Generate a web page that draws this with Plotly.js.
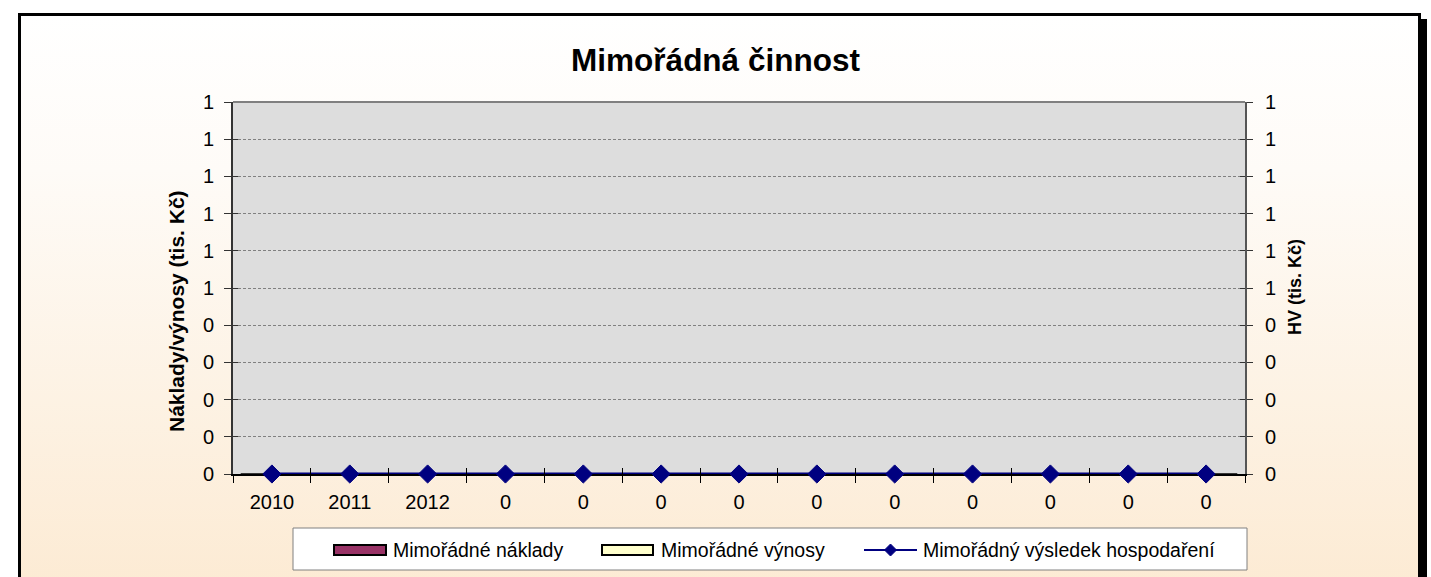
<!DOCTYPE html>
<html>
<head>
<meta charset="utf-8">
<script src="https://cdn.plot.ly/plotly-3.0.1.min.js"></script>
<style>
  html, body { margin: 0; padding: 0; background: #ffffff; }
  #wrap { position: relative; width: 1431px; height: 577px; overflow: hidden; background: #ffffff; }
  #frame {
    position: absolute; left: 18px; top: 13px; width: 1403px; height: 620px;
    box-sizing: border-box; border: 3px solid #000000;
    box-shadow: 6px 6px 0 #000000;
    background: linear-gradient(to bottom, #FFFFFF 0%, #FEFBF7 25%, #FCE9D0 100%);
  }
  #chart { position: absolute; left: 0; top: 0; width: 1431px; height: 577px; }
</style>
</head>
<body>
<div id="wrap">
  <div id="frame"></div>
  <div id="chart"></div>
</div>
<script>
// ---- data ----
const categories = ['2010', '2011', '2012', '0', '0', '0', '0', '0', '0', '0', '0', '0', '0'];
const mimoradneNaklady = [0, 0, 0, 0, 0, 0, 0, 0, 0, 0, 0, 0, 0];
const mimoradneVynosy  = [0, 0, 0, 0, 0, 0, 0, 0, 0, 0, 0, 0, 0];
const mimoradnyVysledek = [0, 0, 0, 0, 0, 0, 0, 0, 0, 0, 0, 0, 0];
const seriesNames = ['Mimořádné náklady', 'Mimořádné výnosy', 'Mimořádný výsledek hospodaření'];
const yTickVals = [0, 0.1, 0.2, 0.3, 0.4, 0.5, 0.6, 0.7, 0.8, 0.9, 1.0];
const yTickText = ['0', '0', '0', '0', '0', '1', '1', '1', '1', '1', '1'];
const chartTitle = 'Mimořádná činnost';
const yTitleLeft = 'Náklady/výnosy (tis. Kč)';
const yTitleRight = 'HV (tis. Kč)';

// ---- styles ----
const FONT = '"Liberation Sans", Arial, sans-serif';
const colNaklady = '#993366';
const colVynosy = '#FFFFCC';
const colVysledek = '#000080';

const W = 1431, H = 577;
const M = { l: 233, r: 186, t: 102, b: 103 };
const pw = W - M.l - M.r, ph = H - M.t - M.b;
const px = x => (x - M.l) / pw;
const py = y => (H - M.b - y) / ph;

const xIdx = categories.map((_, i) => i);
const xRange = [-0.5, categories.length - 0.5];

const traces = [
  { type: 'bar', name: seriesNames[0], x: xIdx, y: mimoradneNaklady, xaxis: 'x', yaxis: 'y',
    marker: { color: colNaklady, line: { color: '#000', width: 1 } }, showlegend: false },
  { type: 'bar', name: seriesNames[1], x: xIdx, y: mimoradneVynosy, xaxis: 'x', yaxis: 'y',
    marker: { color: colVynosy, line: { color: '#000', width: 1 } }, showlegend: false },
  { type: 'scatter', mode: 'lines+markers', name: seriesNames[2], x: xIdx, y: mimoradnyVysledek,
    xaxis: 'x', yaxis: 'y2', cliponaxis: false,
    line: { color: colVysledek, width: 3 },
    marker: { symbol: 'diamond', size: 14, color: colVysledek, line: { color: colVysledek, width: 1 } },
    showlegend: false }
];

// manual legend (Excel-style wide swatches)
const legY = 550;
const dmX = 890.5, dmR = 6;
const shapes = [
  { type: 'line', xref: 'paper', yref: 'paper', x0: 0, x1: 1, y0: 1, y1: 1,
    line: { color: '#808080', width: 2 } },
  { type: 'rect', xref: 'paper', yref: 'paper', x0: px(293), x1: px(1247), y0: py(570), y1: py(528),
    fillcolor: '#FFFFFF', line: { color: '#808080', width: 1 } },
  { type: 'rect', xref: 'paper', yref: 'paper', x0: px(334), x1: px(386), y0: py(555), y1: py(545),
    fillcolor: colNaklady, line: { color: '#000', width: 2 } },
  { type: 'rect', xref: 'paper', yref: 'paper', x0: px(602), x1: px(653), y0: py(555), y1: py(545),
    fillcolor: colVynosy, line: { color: '#000', width: 2 } },
  { type: 'line', xref: 'paper', yref: 'paper', x0: px(864), x1: px(917), y0: py(legY), y1: py(legY),
    line: { color: colVysledek, width: 2 } },
  { type: 'path', xref: 'paper', yref: 'paper',
    path: `M${px(dmX)},${py(legY - dmR)} L${px(dmX + dmR)},${py(legY)} L${px(dmX)},${py(legY + dmR)} L${px(dmX - dmR)},${py(legY)} Z`,
    fillcolor: colVysledek, line: { color: colVysledek, width: 1 } }
];

const legFont = { family: FONT, size: 19.5, color: '#000' };
const annotations = [
  { xref: 'paper', yref: 'paper', x: px(391), y: py(legY), xanchor: 'left', yanchor: 'middle',
    text: seriesNames[0], showarrow: false, font: legFont },
  { xref: 'paper', yref: 'paper', x: px(659), y: py(legY), xanchor: 'left', yanchor: 'middle',
    text: seriesNames[1], showarrow: false, font: legFont },
  { xref: 'paper', yref: 'paper', x: px(921), y: py(legY), xanchor: 'left', yanchor: 'middle',
    text: seriesNames[2], showarrow: false, font: legFont },
  { xref: 'paper', yref: 'paper', x: px(176), y: py(311), xanchor: 'center', yanchor: 'middle',
    text: yTitleLeft, textangle: -90, showarrow: false,
    font: { family: FONT, size: 21, color: '#000', weight: 700 } },
  { xref: 'paper', yref: 'paper', x: px(1295), y: py(287), xanchor: 'center', yanchor: 'middle',
    text: yTitleRight, textangle: -90, showarrow: false,
    font: { family: FONT, size: 18, color: '#000', weight: 700 } }
];

const tickFont = { family: FONT, size: 20, color: '#000' };
const gridStyle = { showgrid: true, gridcolor: '#808080', gridwidth: 1, griddash: '3px,2px' };

const layout = {
  width: W, height: H,
  margin: { l: M.l, r: M.r, t: M.t, b: M.b, pad: 0 },
  paper_bgcolor: 'rgba(0,0,0,0)',
  plot_bgcolor: '#DDDDDD',
  font: { family: FONT, color: '#000' },
  barmode: 'group',
  showlegend: false,
  title: { text: chartTitle, xref: 'container', x: 0.5, xanchor: 'center',
           yref: 'container', y: 1 - 60 / H, yanchor: 'middle',
           font: { family: FONT, size: 31.5, color: '#000', weight: 700 } },
  xaxis: {
    range: xRange, tickmode: 'array', tickvals: xIdx, ticktext: categories,
    ticks: '', showgrid: false, zeroline: false, layer: 'below traces',
    showline: true, linecolor: '#000', linewidth: 2,
    tickfont: tickFont, ticklabelstandoff: 9,
    minor: { tickmode: 'linear', tick0: -0.5, dtick: 1, ticks: 'outside', ticklen: 7,
             tickcolor: '#000', tickwidth: 1, showgrid: false },
    fixedrange: true
  },
  xaxis2: {
    overlaying: 'x', anchor: 'y', range: xRange, tickmode: 'linear', tick0: -0.5, dtick: 1,
    ticks: 'inside', ticklen: 6, tickcolor: '#000', tickwidth: 1,
    showticklabels: false, showgrid: false, zeroline: false, showline: false, fixedrange: true
  },
  yaxis: Object.assign({
    range: [0, 1], tickmode: 'array', tickvals: yTickVals, ticktext: yTickText,
    ticks: 'outside', ticklen: 7, tickcolor: '#333', tickwidth: 1, layer: 'below traces',
    showline: true, linecolor: '#333', linewidth: 2, zeroline: false,
    tickfont: tickFont, ticklabelstandoff: 6, fixedrange: true
  }, gridStyle),
  yaxis2: {
    overlaying: 'y', side: 'right', anchor: 'x', range: [0, 1],
    tickmode: 'array', tickvals: yTickVals, ticktext: yTickText,
    ticks: 'outside', ticklen: 6, tickcolor: '#333', tickwidth: 1,
    showline: true, linecolor: '#555', linewidth: 2, showgrid: false, zeroline: false,
    tickfont: tickFont, ticklabelstandoff: 8, fixedrange: true
  },
  yaxis3: {
    overlaying: 'y', side: 'left', anchor: 'x', range: [0, 1],
    tickmode: 'array', tickvals: yTickVals, ticks: 'inside', ticklen: 5, tickcolor: '#333',
    showticklabels: false, showgrid: false, zeroline: false, showline: false, fixedrange: true
  },
  yaxis4: {
    overlaying: 'y', side: 'right', anchor: 'x', range: [0, 1],
    tickmode: 'array', tickvals: yTickVals, ticks: 'inside', ticklen: 5, tickcolor: '#333',
    showticklabels: false, showgrid: false, zeroline: false, showline: false, fixedrange: true
  },
  shapes: shapes,
  annotations: annotations
};

// invisible empty traces so the overlay tick axes are drawn
traces.push({ type: 'scatter', x: [], y: [], xaxis: 'x2', yaxis: 'y', showlegend: false, hoverinfo: 'skip' });
traces.push({ type: 'scatter', x: [], y: [], xaxis: 'x', yaxis: 'y3', showlegend: false, hoverinfo: 'skip' });
traces.push({ type: 'scatter', x: [], y: [], xaxis: 'x', yaxis: 'y4', showlegend: false, hoverinfo: 'skip' });

Plotly.newPlot('chart', traces, layout, { displayModeBar: false, staticPlot: true });
</script>
</body>
</html>
